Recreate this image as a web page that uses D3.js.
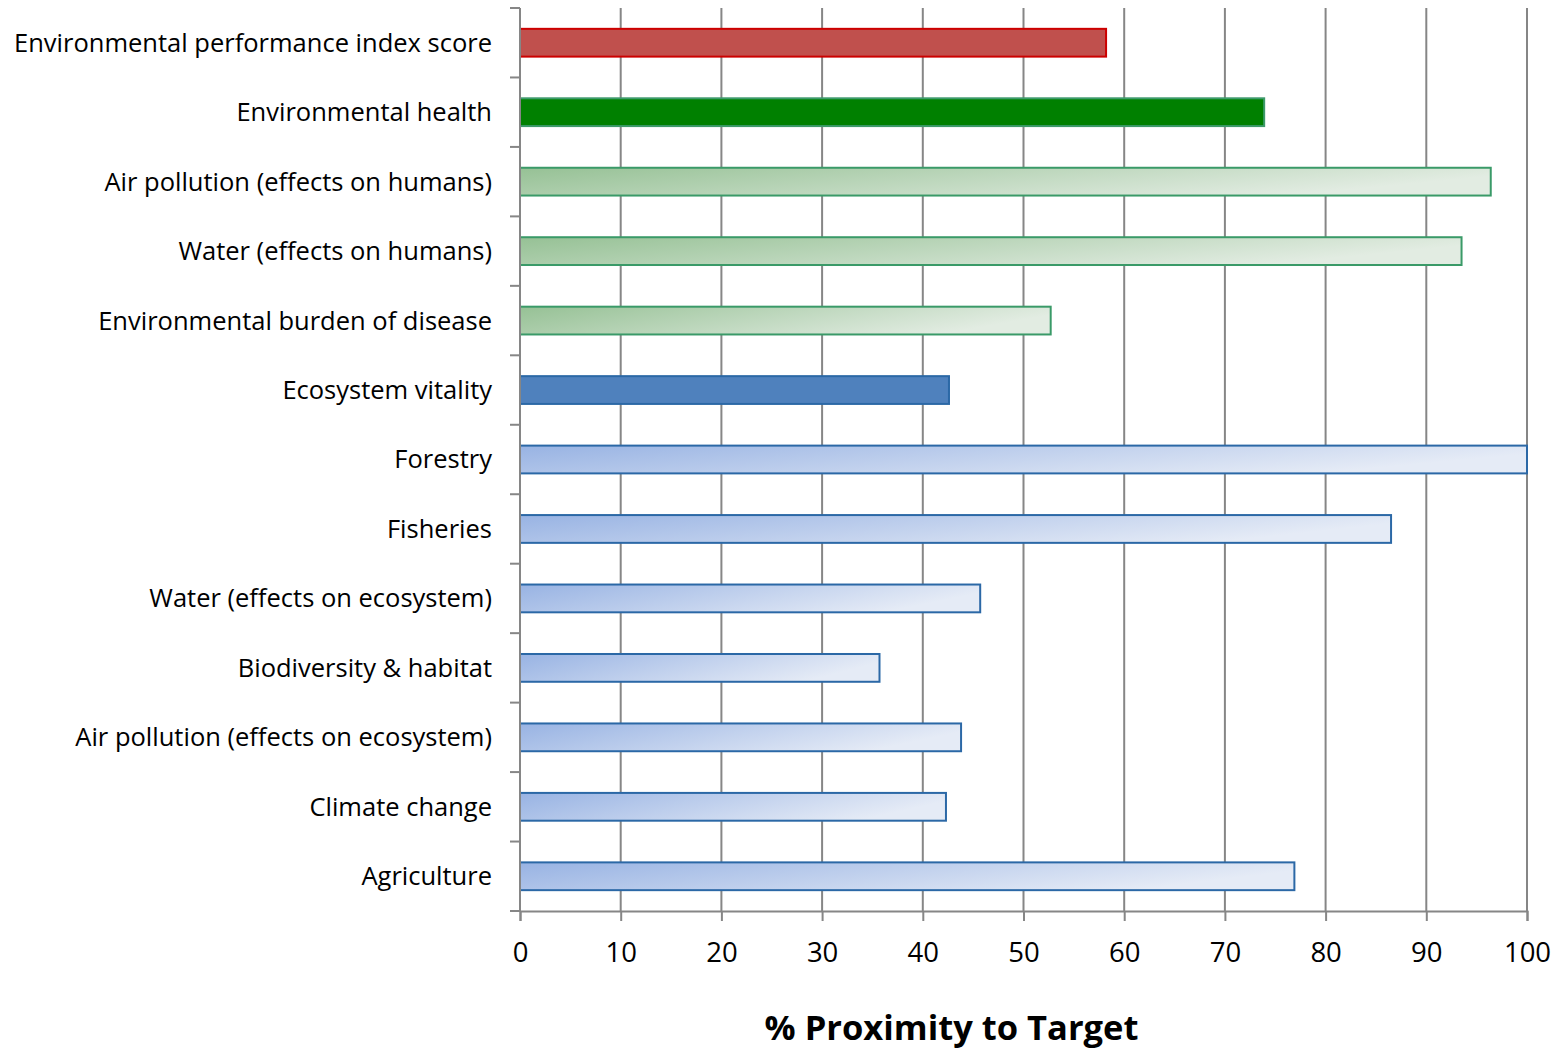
<!DOCTYPE html>
<html>
<head>
<meta charset="utf-8">
<script src="https://cdn.jsdelivr.net/npm/d3@7"></script>
<style>
  body { margin: 0; background: #fff; }
  text { font-family: "Open Sans", sans-serif; fill: #000; }
</style>
</head>
<body>
<div id="chart"></div>
<script>
var categories = [
    "Environmental performance index score",
    "Environmental health",
    "Air pollution (effects on humans)",
    "Water (effects on humans)",
    "Environmental burden of disease",
    "Ecosystem vitality",
    "Forestry",
    "Fisheries",
    "Water (effects on ecosystem)",
    "Biodiversity & habitat",
    "Air pollution (effects on ecosystem)",
    "Climate change",
    "Agriculture"
];
var values = [58.2, 73.9, 96.4, 93.5, 52.7, 42.6, 100, 86.5, 45.7, 35.7, 43.8, 42.3, 76.9];
// which style each bar uses
var groups = ["total", "health", "healthSub", "healthSub", "healthSub", "eco",
              "ecoSub", "ecoSub", "ecoSub", "ecoSub", "ecoSub", "ecoSub", "ecoSub"];
var xTicks = [0, 10, 20, 30, 40, 50, 60, 70, 80, 90, 100];
var xTitle = "% Proximity to Target";

var margin = { top: 8, right: 31, bottom: 139, left: 520 };
var width = 1558 - margin.left - margin.right;
var height = 1050 - margin.top - margin.bottom;

var svg = d3.select("#chart")
  .append("svg")
    .attr("width", 1558)
    .attr("height", 1050);

var defs = svg.append("defs");
function grad(id, c1, c2) {
    var g = defs.append("linearGradient").attr("id", id)
        .attr("x1", "0").attr("y1", "0").attr("x2", "1").attr("y2", "0.3");
    g.append("stop").attr("offset", "0%").attr("stop-color", c1);
    g.append("stop").attr("offset", "100%").attr("stop-color", c2);
}
grad("gGreen", "#96c195", "#e2ece2");
grad("gBlue", "#98b3e3", "#e5ebf6");

var styles = {
    total:     { fill: "#c0504d",      stroke: "#cc0000" },
    health:    { fill: "#008000",      stroke: "#3d9a6b" },
    healthSub: { fill: "url(#gGreen)", stroke: "#3a9a68" },
    eco:       { fill: "#4f81bd",      stroke: "#2b68a6" },
    ecoSub:    { fill: "url(#gBlue)",  stroke: "#2b68a6" }
};

var g = svg.append("g")
    .attr("transform", "translate(" + margin.left + "," + margin.top + ")");

var x = d3.scaleLinear()
    .domain([0, 100])
    .range([0, width]);

var y = d3.scaleBand()
    .domain(categories)
    .range([0, height])
    .paddingInner(0.6)
    .paddingOuter(0.3);

// vertical gridlines
g.append("g")
    .selectAll("line")
    .data(xTicks.slice(1))
    .enter()
    .append("line")
        .attr("x1", function(d) { return x(d) })
        .attr("x2", function(d) { return x(d) })
        .attr("y1", 0)
        .attr("y2", height)
        .style("stroke", "#868686")
        .style("stroke-width", 2);

// bars
g.append("g")
    .selectAll("rect")
    .data(categories)
    .enter()
    .append("rect")
        .attr("x", 0)
        .attr("y", function(d) { return y(d) })
        .attr("width", function(d, i) { return x(values[i]) })
        .attr("height", y.bandwidth())
        .style("fill", function(d, i) { return styles[groups[i]].fill })
        .style("stroke", function(d, i) { return styles[groups[i]].stroke })
        .style("stroke-width", 2);

// x axis
var xAxis = g.append("g")
    .attr("transform", "translate(0," + height + ")")
    .call(d3.axisBottom(x).tickValues(xTicks).tickSize(10).tickPadding(21));
xAxis.selectAll("text").style("font-size", "27.5px");

// y axis, ticks sit between categories
var bandStep = height / categories.length;
var yAxis = g.append("g");
yAxis.append("line")
    .attr("x1", 0).attr("x2", 0)
    .attr("y1", 0).attr("y2", height);
yAxis.selectAll(".tk")
    .data(d3.range(categories.length + 1))
    .enter()
    .append("line")
        .attr("class", "tk")
        .attr("x1", -10).attr("x2", 0)
        .attr("y1", function(d) { return d * bandStep })
        .attr("y2", function(d) { return d * bandStep });
yAxis.selectAll(".lbl")
    .data(categories)
    .enter()
    .append("text")
        .attr("class", "lbl")
        .attr("x", -28)
        .attr("y", function(d) { return y(d) + y.bandwidth() / 2 })
        .attr("dy", "0.35em")
        .attr("text-anchor", "end")
        .style("font-size", "25.5px")
        .text(function(d) { return d });

g.selectAll(".domain, .tick line")
    .style("stroke", "#868686")
    .style("stroke-width", 2);
yAxis.selectAll("line").style("stroke", "#868686").style("stroke-width", 2);

svg.append("text")
    .attr("x", margin.left + width / 2 - 72)
    .attr("y", 1040)
    .attr("text-anchor", "middle")
    .style("font-size", "34.5px")
    .style("font-weight", "bold")
    .text(xTitle);
</script>
</body>
</html>
